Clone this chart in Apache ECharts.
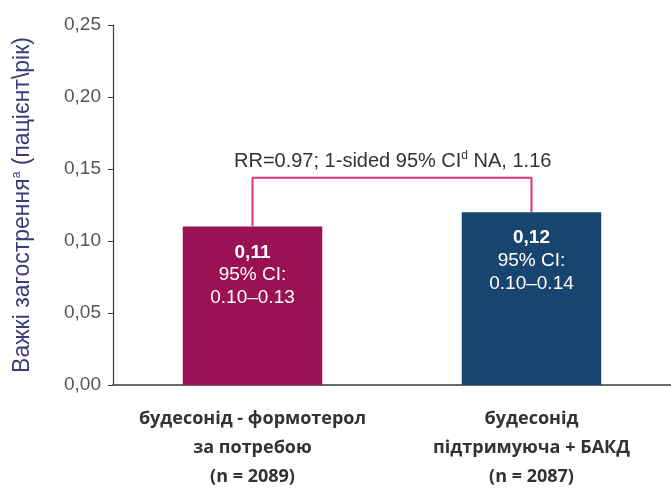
<!DOCTYPE html>
<html>
<head>
<meta charset="utf-8">
<script src="https://cdn.jsdelivr.net/npm/echarts@6/dist/echarts.min.js"></script>
<style>
  html, body { margin: 0; padding: 0; background: #fff; }
  #chart { width: 671px; height: 496px; }
</style>
</head>
<body>
<div id="chart"></div>
<script>
// Treatment groups on the x axis
const categories = [
  'будесонід - формотерол\nза потребою\n(n = 2089)',
  'будесонід\nпідтримуюча + БАКД\n(n = 2087)'
];
// Annualised severe exacerbation rate per group
const rates = [0.11, 0.12];
const ciLabels = ['0.10–0.13', '0.10–0.14'];
const barColors = ['#9a1253', '#174570'];
// Comparison bracket height and its annotation
const bracketLevel = 0.144;
const rrText = 'RR=0.97; 1-sided 95% CI';
const rrTail = ' NA, 1.16';

const chart = echarts.init(document.getElementById('chart'));

const fmt = v => v.toFixed(2).replace('.', ',');

chart.setOption({
  animation: false,
  grid: { left: 113, width: 564, top: 25, bottom: 111 },
  xAxis: {
    type: 'category',
    data: categories,
    axisLine: { lineStyle: { color: '#3a3a3a', width: 1.5 } },
    axisTick: { show: false },
    axisLabel: {
      interval: 0,
      margin: 19,
      color: '#333',
      fontFamily: 'Open Sans',
      fontWeight: 'bold',
      fontSize: 18,
      lineHeight: 29
    }
  },
  yAxis: {
    type: 'value',
    min: 0,
    max: 0.25,
    interval: 0.05,
    splitLine: { show: false },
    axisLine: { show: true, lineStyle: { color: '#3a3a3a', width: 1.2 } },
    axisTick: { show: true, length: 5, lineStyle: { color: '#3a3a3a' } },
    axisLabel: {
      color: '#555',
      fontFamily: 'Liberation Sans',
      fontSize: 19,
      margin: 12,
      formatter: fmt
    },
    name: '{m|Важкі загострення}{s|a}{m| (пацієнт\\рік)}',
    nameLocation: 'middle',
    nameGap: 79,
    nameTextStyle: {
      rich: {
        m: { color: '#3b3b78', fontFamily: 'Liberation Sans', fontSize: 23 },
        s: { color: '#3b3b78', fontFamily: 'Liberation Sans', fontSize: 12, verticalAlign: 'top', padding: [0, 0, 10, 0] }
      }
    }
  },
  series: [
    {
      type: 'bar',
      barWidth: '50%',
      data: rates.map((v, i) => ({
        value: v,
        itemStyle: { color: barColors[i] },
        label: {
          show: true,
          position: 'insideTop',
          distance: 15,
          formatter: () => '{b|' + fmt(v) + '}\n{n|95% CI:}\n{n|' + ciLabels[i] + '}',
          rich: {
            b: { color: '#fff', fontFamily: 'Liberation Sans', fontWeight: 'bold', fontSize: 19, lineHeight: 22, align: 'center' },
            n: { color: '#fff', fontFamily: 'Liberation Sans', fontSize: 19, lineHeight: 23, align: 'center' }
          }
        }
      })),
      z: 2
    },
    {
      type: 'line',
      data: [
        [0, rates[0]],
        [0, bracketLevel],
        [1, bracketLevel],
        [1, rates[1]]
      ],
      symbol: 'none',
      lineStyle: { color: '#e0317c', width: 2 },
      z: 3
    }
  ],
  graphic: [
    {
      type: 'text',
      left: 234,
      top: 150,
      style: {
        text: '{m|' + rrText + '}{s|d}{m|' + rrTail + '}',
        rich: {
          m: { fill: '#333', fontFamily: 'Liberation Sans', fontSize: 20 },
          s: { fill: '#333', fontFamily: 'Liberation Sans', fontSize: 12, verticalAlign: 'top', padding: [0, 0, 10, 0] }
        }
      }
    }
  ]
});
</script>
</body>
</html>
